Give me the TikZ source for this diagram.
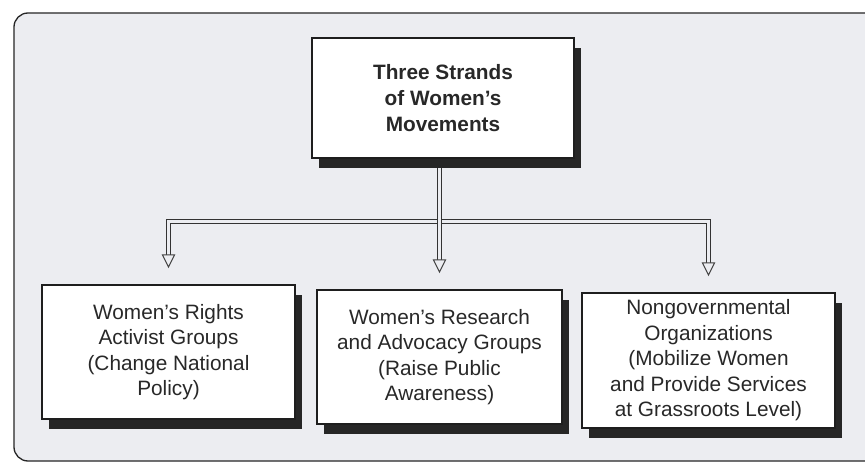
\documentclass[tikz,border=0pt]{standalone}
\usepackage{fontspec}
\setmainfont{Liberation Sans}
\usetikzlibrary{shadows,calc}
\pgfdeclarelayer{framelayer}
\pgfdeclarelayer{connlayer}
\pgfsetlayers{framelayer,connlayer,main}
\definecolor{bgc}{RGB}{236,237,241}
\definecolor{txt}{RGB}{40,40,40}
\definecolor{edge}{RGB}{30,30,30}
\tikzset{
  box/.style={draw=edge, line width=1.2pt, fill=white, inner sep=0pt, align=center,
    text=txt, font=\fontsize{20.8}{25.5}\selectfont,
    drop shadow={shadow xshift=7pt, shadow yshift=-10pt, fill=black!85, opacity=1}},
  topbox/.style={box, font=\fontsize{20.8}{26}\selectfont\bfseries},
  dbl/.style={draw=black!80, line width=1pt, double=bgc, double distance=3pt, line join=miter},
  tiphead/.style={draw=black!75, line width=1pt, fill=bgc, line join=miter},
  frame/.style={draw=black!85, line width=1.3pt, fill=bgc, rounded corners=14pt}
}
\begin{document}
\begin{tikzpicture}[x=1pt,y=-1pt]
\clip (0,0) rectangle (865,470);
\begin{pgfonlayer}{framelayer}
\fill[white] (0,0) rectangle (865,470);
\draw[frame] (14,13) rectangle (890,461);
\end{pgfonlayer}

\node[topbox, minimum width=262pt, minimum height=120pt] (top) at (443,98)
  {Three Strands\\of Women's\\Movements};
\node[box, minimum width=253pt, minimum height=134pt] (left) at (168.5,352)
  {Women's Rights\\Activist Groups\\(Change National\\Policy)};
\node[box, minimum width=245pt, minimum height=134pt] (mid) at (439.5,357)
  {Women's Research\\and Advocacy Groups\\(Raise Public\\Awareness)};
\node[box, minimum width=253pt, minimum height=135pt] (right) at (708.5,360.5)
  {Nongovernmental\\Organizations\\(Mobilize Women\\and Provide Services\\at Grassroots Level)};

\coordinate (tipL) at ($(left.north)+(0,-17.5)$);
\coordinate (tipM) at ($(mid.north)+(0,-17.5)$);
\coordinate (tipR) at ($(right.north)+(0,-17.5)$);
\coordinate (baseL) at ($(tipL)+(0,-12)$);
\coordinate (baseM) at ($(tipM)+(0,-12)$);
\coordinate (baseR) at ($(tipR)+(0,-12)$);
\coordinate (bar) at (440,221.5);

\begin{pgfonlayer}{connlayer}
\draw[dbl] (baseL) |- (bar -| baseR) -- (baseR);
\draw[dbl] (top.south -| baseM) -- (baseM);
\draw[tiphead] (tipL) -- ($(baseL)+(-6,0)$) -- ($(baseL)+(6,0)$) -- cycle;
\draw[tiphead] (tipM) -- ($(baseM)+(-6,0)$) -- ($(baseM)+(6,0)$) -- cycle;
\draw[tiphead] (tipR) -- ($(baseR)+(-6,0)$) -- ($(baseR)+(6,0)$) -- cycle;
\end{pgfonlayer}
\end{tikzpicture}
\end{document}
